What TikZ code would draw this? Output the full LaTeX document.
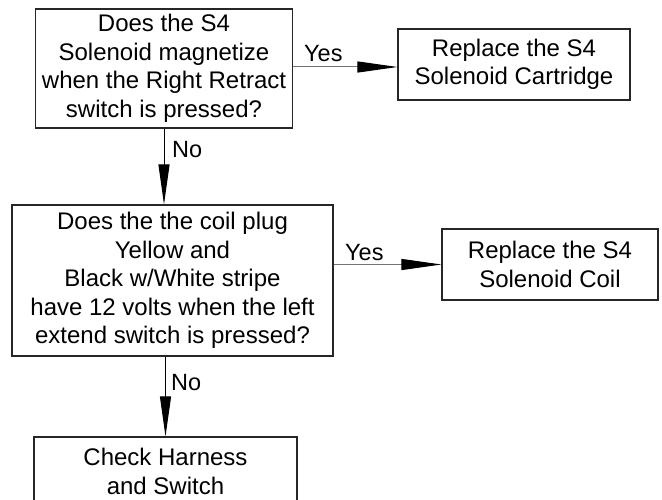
\documentclass[tikz,border=0pt]{standalone}
\usepackage{fontspec}
\setmainfont{Liberation Sans}
\usetikzlibrary{arrows.meta}
\begin{document}
\begin{tikzpicture}[x=1pt,y=-1pt,
  box/.style={draw=black!85, line width=1.1pt, rectangle, inner sep=0pt,
    align=center, font=\fontsize{24}{28.5}\selectfont},
  lbl/.style={inner sep=0pt, font=\fontsize{23.5}{28}\selectfont},
  flow/.style={line width=1pt, -{Triangle[length=40pt,width=11pt,color=black]}},
  yesflow/.style={flow, draw=black!55},
  noflow/.style={flow, draw=black}]
\useasboundingbox (0,0) rectangle (662,500);
\clip (0,0) rectangle (662,500);

% decision and action boxes
\node[box, minimum width=257pt, minimum height=119pt] (b1) at (164,68.5)
  {Does the S4\\Solenoid magnetize\\when the Right Retract\\switch is pressed?};
\node[box, minimum width=232pt, minimum height=71pt] (b2) at (514,64.5)
  {Replace the S4\\Solenoid Cartridge};
\node[box, minimum width=321pt, minimum height=151pt] (b3) at (172.5,280.5)
  {Does the the coil plug\\Yellow and\\Black w/White stripe\\have 12 volts when the left\\extend switch is pressed?};
\node[box, minimum width=216pt, minimum height=71pt] (b4) at (550,264.5)
  {Replace the S4\\Solenoid Coil};
\node[box, minimum width=263pt, minimum height=69pt] (b5) at (165.5,471.5)
  {Check Harness\\and Switch};

% connectors
\draw[yesflow] ([yshift=1.5pt]b1.east) -- ([yshift=1.5pt]b1.east -| b2.west);
\draw[noflow] (b1.south) -- (b1.south |- b3.north);
\draw[yesflow] (b4.west -| b3.east) -- (b4.west);
\draw[noflow] (b5.north |- b3.south) -- (b5.north);

% branch labels
\node[lbl, anchor=base west] (yes1) at (304,62) {Yes};
\node[lbl, anchor=base west] (no1) at (172,158) {No};
\node[lbl, anchor=base west] (yes2) at (345,261) {Yes};
\node[lbl, anchor=base west] (no2) at (171,390) {No};
\end{tikzpicture}
\end{document}
